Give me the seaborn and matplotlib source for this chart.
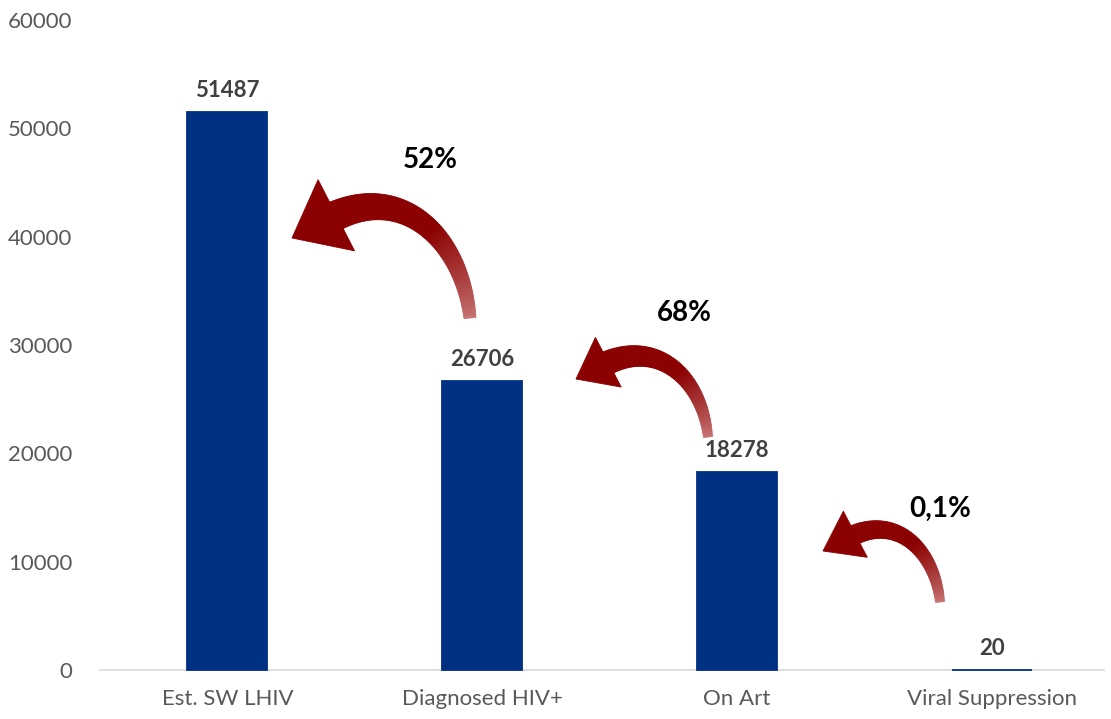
import numpy as np
import pandas as pd
import matplotlib
matplotlib.use("Agg")
import matplotlib.pyplot as plt
from matplotlib.patches import Polygon
import seaborn as sns

# ---- data ----
categories = ["Est. SW LHIV", "Diagnosed HIV+", "On Art", "Viral Suppression"]
values = [51487, 26706, 18278, 20]
pct_labels = ["52%", "68%", "0,1%"]
y_ticks = [0, 10000, 20000, 30000, 40000, 50000, 60000]

BAR = "#003082"
ARROW = np.array([0.545, 0.0, 0.0])
ARROW_LIGHT = np.array([0.78, 0.45, 0.45])

sns.set_theme(style="white")
plt.rcParams["font.family"] = ["Lato", "DejaVu Sans"]

W, H = 1111, 719
fig = plt.figure(figsize=(W / 100, H / 100), dpi=100)
ax = fig.add_axes([100 / W, (H - 670) / H, 1004 / W, 650 / H])

df = pd.DataFrame({"cat": categories, "val": values})
sns.barplot(data=df, x="cat", y="val", order=categories, color=BAR,
            width=0.314, saturation=1, ax=ax, edgecolor=BAR, linewidth=1.3,
            zorder=3)

ax.set_xlim(-0.5, 3.44)
ax.set_ylim(0, 60000)
ax.set_yticks(y_ticks)
ax.set_yticklabels([str(v) for v in y_ticks])
ax.set_xlabel("")
ax.set_ylabel("")
for s in ["left", "right", "top"]:
    ax.spines[s].set_visible(False)
ax.spines["bottom"].set_color("#D9D9D9")
ax.spines["bottom"].set_linewidth(1.2)
ax.spines["bottom"].set_zorder(1)
for p in ax.patches:
    p.set_clip_on(False)
ax.tick_params(axis="y", length=0, pad=20, labelsize=16, labelcolor="#595959")
ax.tick_params(axis="x", length=0, pad=14, labelsize=16, labelcolor="#595959")

# value labels
for i, v in enumerate(values):
    ax.annotate(str(v), (i, v), xytext=(0, 8), textcoords="offset points",
                ha="center", va="bottom", fontsize=16, fontweight="bold",
                color="#404040")


# ---- curved arrows (figure pixel geometry, y measured from top) ----
def P(x, y):
    return (x / W, 1 - y / H)


def draw_arrow(tail, base, tip, half, w_tail, w_head, a, b, back=6, n=80):
    tail = np.array(tail, float)
    base = np.array(base, float)
    tip = np.array(tip, float)
    hd = tip - base
    hd /= np.linalg.norm(hd)
    td = np.array([-0.1, -1.0])
    td /= np.linalg.norm(td)
    p0, p3 = tail, base
    p1 = tail + a * td
    p2 = base - b * hd
    ts = np.linspace(0, 1, n)
    pts = ((1 - ts)[:, None] ** 3 * p0 + 3 * ((1 - ts) ** 2 * ts)[:, None] * p1
           + 3 * ((1 - ts) * ts ** 2)[:, None] * p2 + (ts ** 3)[:, None] * p3)
    der = (3 * ((1 - ts) ** 2)[:, None] * (p1 - p0) + 6 * ((1 - ts) * ts)[:, None] * (p2 - p1)
           + 3 * (ts ** 2)[:, None] * (p3 - p2))
    der /= np.linalg.norm(der, axis=1)[:, None]
    nor = np.stack([-der[:, 1], der[:, 0]], axis=1)
    wid = w_tail + (w_head - w_tail) * ts
    L = pts + nor * wid[:, None] / 2
    R = pts - nor * wid[:, None] / 2
    for k in range(n - 1):
        f = min(1.0, ts[k] / 0.45) ** 0.8
        c = ARROW_LIGHT * (1 - f) + ARROW * f
        quad = [P(*L[k]), P(*L[k + 1]), P(*R[k + 1]), P(*R[k])]
        fig.patches.append(Polygon(quad, closed=True, transform=fig.transFigure,
                                   facecolor=c, edgecolor=c, lw=0.6, zorder=3))
    hn = np.array([-hd[1], hd[0]])
    b1 = base + hn * half - hd * back
    b2 = base - hn * half - hd * back
    head = [P(*b1), P(*tip), P(*b2)]
    fig.patches.append(Polygon(head, closed=True, transform=fig.transFigure,
                               facecolor=ARROW, edgecolor=ARROW, lw=0.6, zorder=3))


draw_arrow(tail=(470, 318), base=(331, 218), tip=(292, 238), half=40,
           w_tail=12, w_head=30, a=80, b=80)
draw_arrow(tail=(708, 437), base=(603, 365), tip=(576, 379), half=28,
           w_tail=9, w_head=24, a=60, b=60)
draw_arrow(tail=(940, 602), base=(850, 537), tip=(823, 551), half=26,
           w_tail=9, w_head=20, a=52, b=52)

# percentage labels
for lab, (x, y) in zip(pct_labels, [(430, 160), (684, 313), (940, 509)]):
    fig.text(*P(x, y), lab, ha="center", va="center", fontsize=20,
             fontweight="bold", color="black")

fig.savefig("out.png", dpi=100)
